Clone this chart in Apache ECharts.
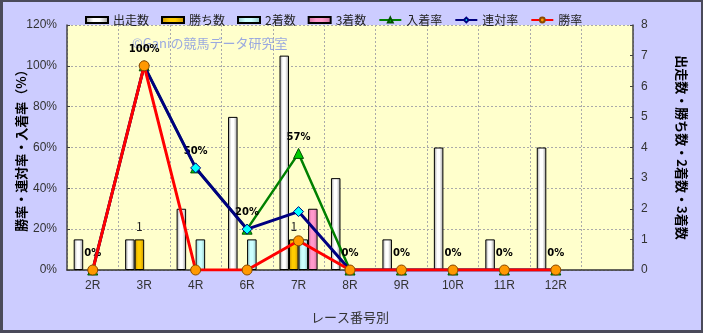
<!DOCTYPE html>
<html><head><meta charset="utf-8">
<script src="https://cdn.jsdelivr.net/npm/echarts@6/dist/echarts.min.js"></script>
<style>html,body{margin:0;padding:0;background:#ccccff;}#c{width:703px;height:333px;}</style>
</head><body><div id="c"></div>
<script>
const categories = ['2R','3R','4R','6R','7R','8R','9R','10R','11R','12R',''];
const runners   = [1,1,2,5,7,3,1,4,1,4];
const wins      = [0,1,0,0,1,0,0,0,0,0];
const seconds   = [0,0,1,1,1,0,0,0,0,0];
const thirds    = [0,0,0,0,2,0,0,0,0,0];
const placeRate = [0,100,50,20,57.1,0,0,0,0,0];
const rentaiRate= [0,100,50,20,28.6,0,0,0,0,0];
const winRate   = [0,100,0,0,14.3,0,0,0,0,0];
const leftTicks = [0,20,40,60,80,100,120];

const FONT = '"Noto Sans CJK JP", "Noto Sans", sans-serif';
const nz = a => a.map(v => v === 0 ? null : v);
function grad(edge, mid){
  return new echarts.graphic.LinearGradient(0,0,1,0,[
    {offset:0,color:edge},{offset:0.35,color:mid},{offset:0.6,color:mid},{offset:1,color:edge}]);
}
const chart = echarts.init(document.getElementById('c'), null, {renderer:'canvas'});
const barCommon = {type:'bar', yAxisIndex:1, barGap:'0%', barCategoryGap:'26%', z:2};
chart.setOption({
  animation:false,
  backgroundColor:'#ccccff',
  textStyle:{fontFamily:FONT},
  legend:{
    top:9, left:80, itemWidth:22, itemHeight:6, itemGap:12,
    textStyle:{fontSize:12, color:'#222', fontFamily:FONT},
    data:[{name:'出走数',icon:'rect'},{name:'勝ち数',icon:'rect'},{name:'2着数',icon:'rect'},{name:'3着数',icon:'rect'},'入着率','連対率','勝率']
  },
  grid:{left:67, right:70, top:25, bottom:63, show:true, backgroundColor:'#ffffcc', borderWidth:0,
        containLabel:false, outerBoundsMode:'none'},
  xAxis:{
    type:'category', data:categories, boundaryGap:true,
    name:'レース番号別', nameLocation:'middle', nameGap:41, nameMoveOverlap:false,
    nameTextStyle:{fontSize:13, color:'#333'},
    axisLine:{lineStyle:{color:'#333', width:1.5}},
    axisTick:{show:false},
    axisLabel:{fontSize:12, color:'#333', margin:10, fontFamily:'"Liberation Sans", sans-serif'},
    splitLine:{show:true, lineStyle:{color:'#aaa', type:[2,2], width:1}}
  },
  yAxis:[
    {type:'value', min:0, max:120, interval:20,
     name:'勝率・連対率・入着率（%）', nameLocation:'middle', nameGap:39, nameRotate:90, nameMoveOverlap:false,
     nameTextStyle:{fontSize:13, color:'#000', fontWeight:'bold'},
     axisLine:{show:true, lineStyle:{color:'#444', width:1.5}},
     axisTick:{show:true, inside:true, length:3, lineStyle:{color:'#444'}},
     axisLabel:{formatter:'{value}%', fontSize:12, color:'#333', margin:10, fontFamily:'"Liberation Sans", sans-serif'},
     splitLine:{show:true, lineStyle:{color:'#aaa', type:[2,2], width:1}}},
    {type:'value', min:0, max:8, interval:1,
     name:'出走数・勝ち数・2着数・3着数', nameLocation:'middle', nameGap:42, nameRotate:-90, nameMoveOverlap:false,
     nameTextStyle:{fontSize:13, color:'#000', fontWeight:'bold'},
     axisLine:{show:true, lineStyle:{color:'#444', width:1.5}},
     axisTick:{show:true, inside:true, length:3, lineStyle:{color:'#444'}},
     axisLabel:{fontSize:12, color:'#333', margin:8, fontFamily:'"Liberation Sans", sans-serif'},
     splitLine:{show:false}}
  ],
  graphic:[
    {type:'text', left:132, top:37, z:1, silent:true,
     style:{text:'©Ganiの競馬データ研究室', fill:'rgba(120,140,230,0.75)', font:'13px '+FONT}},
    {type:'rect', shape:{x:1,y:1,width:701,height:331}, z:100, silent:true,
     style:{fill:'none', stroke:'#4a4a5a', lineWidth:2}},
    {type:'line', shape:{x1:1.5,y1:0,x2:1.5,y2:333}, z:100, silent:true, style:{stroke:'#4a4a5a', lineWidth:3}},
    {type:'line', shape:{x1:0,y1:331.5,x2:703,y2:331.5}, z:100, silent:true, style:{stroke:'#4a4a5a', lineWidth:3}}
  ],
  series:[
    Object.assign({}, barCommon, {name:'出走数', data:nz(runners),
      itemStyle:{color:grad('#9a9a9a','#ffffff'), borderColor:'#000', borderWidth:1}}),
    Object.assign({}, barCommon, {name:'勝ち数', data:nz(wins),
      itemStyle:{color:grad('#c99400','#ffcc00'), borderColor:'#000', borderWidth:1},
      label:{show:true, position:'top', distance:7, fontSize:12, color:'#222',
        formatter:p=>p.value>0?String(p.value):''}}),
    Object.assign({}, barCommon, {name:'2着数', data:nz(seconds),
      itemStyle:{color:grad('#8fc4c4','#ccffff'), borderColor:'#000', borderWidth:1}}),
    Object.assign({}, barCommon, {name:'3着数', data:nz(thirds),
      itemStyle:{color:grad('#cc6f9a','#ff99cc'), borderColor:'#000', borderWidth:1}}),
    {name:'入着率', type:'line', yAxisIndex:0, data:placeRate, z:5,
     symbol:'triangle', symbolSize:10,
     lineStyle:{color:'#008000', width:2.5},
     itemStyle:{color:'#00cc00', borderColor:'#005000', borderWidth:1},
     label:{show:true, position:'top', distance:6, fontSize:10, fontWeight:'bold', color:'#000',
       fontFamily:'"DejaVu Sans", sans-serif',
       formatter:p=>Math.round(p.value)+'%'}},
    {name:'連対率', type:'line', yAxisIndex:0, data:rentaiRate, z:6,
     symbol:'diamond', symbolSize:10,
     lineStyle:{color:'#000080', width:3},
     itemStyle:{color:'#00ffff', borderColor:'#000080', borderWidth:1}},
    {name:'勝率', type:'line', yAxisIndex:0, data:winRate, z:7,
     symbol:'circle', symbolSize:10,
     lineStyle:{color:'#ff0000', width:3},
     itemStyle:{color:'#ff9900', borderColor:'#8a4a00', borderWidth:1}}
  ]
});
</script></body></html>
